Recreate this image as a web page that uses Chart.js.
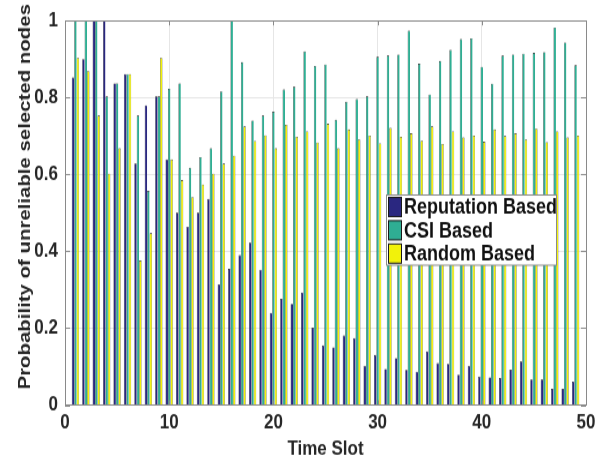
<!DOCTYPE html>
<html>
<head>
<meta charset="utf-8">
<script src="https://cdn.jsdelivr.net/npm/chart.js@4/dist/chart.umd.min.js"></script>
<style>
  html, body { margin: 0; padding: 0; background: #fff; overflow: hidden; }
  #wrap { width: 608px; height: 456px; position: relative; }
  #c { position: absolute; left: 0; top: 0; transform: scaleY(1.2); transform-origin: 0 0; }
</style>
</head>
<body>
<div id="wrap"><canvas id="c" width="608" height="380"></canvas></div>
<script>
const timeSlots = Array.from({length: 49}, (_, i) => i + 1);
const seriesNames = ['Reputation Based', 'CSI Based', 'Random Based'];
const reputation = [0.852, 0.90, 1.0, 1.0, 0.837, 0.861, 0.628, 0.780, 0.803, 0.639,
  0.500, 0.464, 0.500, 0.536, 0.314, 0.354, 0.390, 0.422, 0.352, 0.240,
  0.276, 0.263, 0.293, 0.201, 0.155, 0.150, 0.181, 0.174, 0.102, 0.130,
  0.094, 0.122, 0.091, 0.087, 0.140, 0.109, 0.107, 0.079, 0.102, 0.074,
  0.072, 0.070, 0.092, 0.113, 0.066, 0.066, 0.042, 0.042, 0.061];
const csi = [1.0, 1.0, 1.0, 0.803, 0.837, 0.861, 0.753, 0.557, 0.803, 0.823,
  0.837, 0.617, 0.645, 0.668, 0.816, 1.0, 0.892, 0.740, 0.753, 0.763,
  0.821, 0.828, 0.920, 0.882, 0.886, 0.742, 0.789, 0.796, 0.803, 0.906,
  0.909, 0.912, 0.974, 0.888, 0.808, 0.895, 0.924, 0.952, 0.954, 0.880,
  0.836, 0.909, 0.912, 0.914, 0.916, 0.918, 0.982, 0.943, 0.884];
const random = [0.903, 0.869, 0.753, 0.602, 0.668, 0.861, 0.376, 0.447, 0.903, 0.639,
  0.585, 0.541, 0.574, 0.602, 0.628, 0.649, 0.725, 0.687, 0.702, 0.668,
  0.729, 0.698, 0.712, 0.683, 0.732, 0.668, 0.717, 0.691, 0.701, 0.681,
  0.721, 0.698, 0.707, 0.688, 0.725, 0.679, 0.712, 0.696, 0.701, 0.685,
  0.717, 0.700, 0.707, 0.691, 0.719, 0.684, 0.712, 0.696, 0.701];
const xTicks = [0, 10, 20, 30, 40, 50];
const yTicks = [0, 0.2, 0.4, 0.6, 0.8, 1];
const colors = ['#2a2780', '#2fae93', '#f2f20a'];
const xTitle = 'Time Slot';
const yTitle = 'Probability of unreliable selected nodes';

const FONT = '"Liberation Sans", Arial, Helvetica, sans-serif';
const allSeries = [reputation, csi, random];

const datasets = allSeries.map((vals, k) => ({
  label: seriesNames[k],
  data: timeSlots.map((t, i) => ({x: t, y: vals[i]})),
  backgroundColor: colors[k],
  borderColor: '#111111',
  borderWidth: {left: 0.5, right: k === 2 ? 0.4 : 0, top: 0.6, bottom: 0},
  barPercentage: 1.0,
  categoryPercentage: 0.7
}));

const framePlugin = {
  id: 'frame',
  afterDatasetsDraw(chart) {
    const {ctx, chartArea: a, scales} = chart;
    ctx.save();
    ctx.strokeStyle = '#8a8a8a';
    ctx.lineWidth = 1;
    ctx.beginPath();
    xTicks.forEach(v => {
      const px = Math.round(scales.x.getPixelForValue(v)) + 0.5;
      ctx.moveTo(px, a.bottom); ctx.lineTo(px, a.bottom - 4);
      ctx.moveTo(px, a.top); ctx.lineTo(px, a.top + 4);
    });
    yTicks.forEach(v => {
      const py = Math.round(scales.y.getPixelForValue(v)) + 0.5;
      ctx.moveTo(a.left, py); ctx.lineTo(a.left + 5, py);
      ctx.moveTo(a.right, py); ctx.lineTo(a.right - 5, py);
    });
    ctx.stroke();
    ctx.strokeRect(Math.round(a.left) + 0.5, Math.round(a.top) + 0.5,
      Math.round(a.right - a.left), Math.round(a.bottom - a.top));
    ctx.restore();
  },
  afterDraw(chart) {
    const {ctx} = chart;
    ctx.save();
    ctx.translate(25, 164);
    ctx.rotate(-Math.PI / 2);
    ctx.font = 'bold 17px ' + FONT;
    ctx.fillStyle = '#262626';
    ctx.textAlign = 'center';
    ctx.textBaseline = 'middle';
    ctx.fillText(yTitle, 0, 0);
    ctx.restore();

    ctx.save();
    const bx = 386.5, by = 162.5, bw = 170, bh = 58.5;
    ctx.fillStyle = '#ffffff';
    ctx.fillRect(bx, by, bw, bh);
    ctx.strokeStyle = '#8a8a8a';
    ctx.lineWidth = 1;
    ctx.strokeRect(bx, by, bw, bh);
    ctx.font = 'bold 18px ' + FONT;
    ctx.textBaseline = 'middle';
    ctx.textAlign = 'left';
    seriesNames.forEach((name, k) => {
      const cy = 172.5 + k * 19.4;
      ctx.fillStyle = colors[k];
      ctx.fillRect(388.5, cy - 8, 13, 16);
      ctx.strokeStyle = '#1a1a1a';
      ctx.strokeRect(388.5, cy - 8, 13, 16);
      ctx.fillStyle = '#111';
      ctx.fillText(name, 404, cy + 1);
    });
    ctx.restore();
  }
};

new Chart(document.getElementById('c'), {
  type: 'bar',
  data: {datasets},
  options: {
    responsive: false,
    animation: false,
    layout: {padding: {top: 9, right: 22, left: 0, bottom: 0}},
    plugins: {legend: {display: false}, tooltip: {enabled: false}},
    scales: {
      x: {
        type: 'linear', min: 0, max: 50, offset: false,
        afterBuildTicks(s) { s.ticks = xTicks.map(v => ({value: v})); },
        ticks: {font: {family: FONT, size: 17, weight: 'bold'}, color: '#262626', padding: 5, maxRotation: 0},
        grid: {color: '#e6e6e6', drawTicks: false, offset: false},
        border: {color: '#8a8a8a'},
        title: {display: true, text: xTitle, font: {family: FONT, size: 17, weight: 'bold', lineHeight: 0.62}, color: '#262626', padding: {top: 0, bottom: 0}},
        afterFit(s) { s.height = 42.5; }
      },
      y: {
        min: 0, max: 1,
        afterBuildTicks(s) { s.ticks = yTicks.map(v => ({value: v})); },
        ticks: {font: {family: FONT, size: 17, weight: 'bold'}, color: '#262626', padding: 7,
          callback: v => String(+v.toFixed(1))},
        grid: {color: '#e6e6e6', drawTicks: false},
        border: {color: '#8a8a8a'},
        title: {display: false},
        afterFit(s) { s.width = 65; }
      }
    }
  },
  plugins: [framePlugin]
});
</script>
</body>
</html>
